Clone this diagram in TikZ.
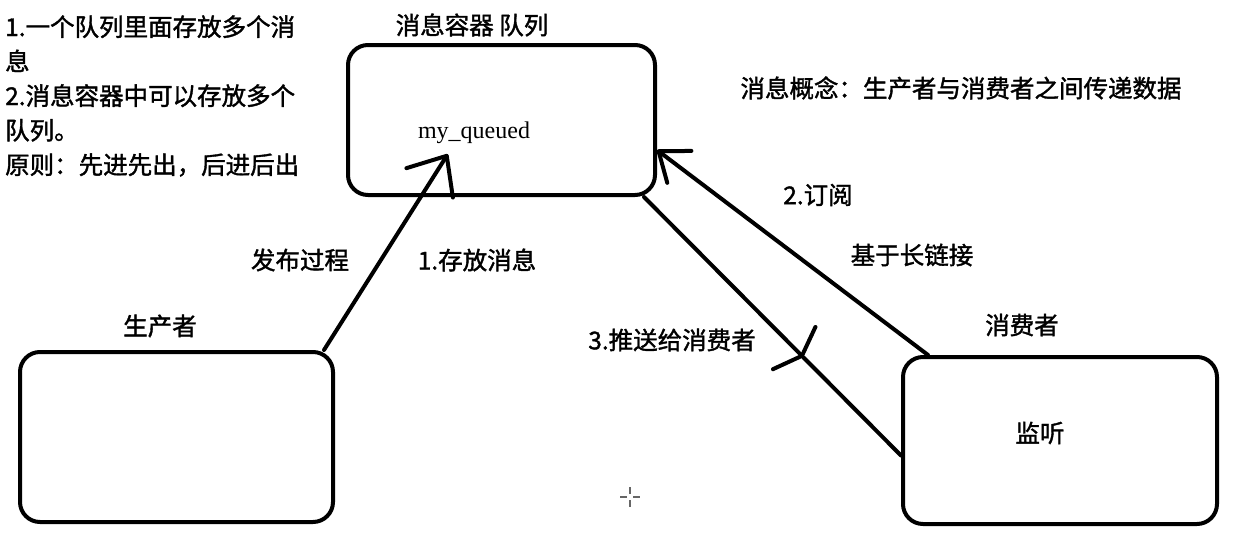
\documentclass[tikz,border=0pt]{standalone}
\usepackage{fontspec}
\setmainfont{Liberation Serif}
\newfontfamily\cjk[FakeBold=1.5]{Noto Sans CJK SC}
\usepackage{tikz}
\usetikzlibrary{arrows.meta,calc}
\newcommand{\cjktext}{\cjk\fontsize{24.5}{34.5}\selectfont}
\newcommand{\drawthick}{\draw[line width=4pt, line cap=round]}
\tikzset{
  box/.style={draw, line width=4pt, rounded corners=20pt, inner sep=0pt},
  lbl/.style={font=\cjktext, inner sep=0pt},
  pubtip/.tip={Straight Barb[length=32pt,width=55pt,round]},
  subtip/.tip={Straight Barb[length=26pt,width=40pt,round]},
  pushtip/.tip={Straight Barb[length=11pt,width=60pt,round]}
}
\begin{document}
\begin{tikzpicture}[x=1pt, y=-1pt]
\useasboundingbox (0,0) rectangle (1235,544);
\node[box, minimum width=307pt, minimum height=150pt] (queue) at (501.5,120) {};
\node[box, minimum width=313pt, minimum height=170pt] (producer) at (176.5,437) {};
\node[box, minimum width=314pt, minimum height=167pt] (consumer) at (1060,440.5) {};
\node[inner sep=0pt, font=\fontsize{24}{28}\selectfont] (mq) at (474,133) {my\_queued};
\node[lbl] (listen) at (1040,433) {监听};
\node[lbl] (queuetitle) at (472,25) {消息容器 队列};
\node[lbl] (prodtitle) at (160,326) {生产者};
\node[lbl] (constitle) at (1022,325) {消费者};
\node[lbl] (concept) at (961,88) {消息概念：生产者与消费者之间传递数据};
\node[lbl, anchor=base west, align=left] (notes) at (5,174) {1.一个队列里面存放多个消\\息\\2.消息容器中可以存放多个\\队列。\\原则：先进先出，后进后出};
\node[lbl] (publish) at (300,260) {发布过程};
\node[lbl] (store) at (477,260) {1.存放消息};
\node[lbl] (subscribe) at (818,195) {2.订阅};
\node[lbl] (longlink) at (912,255) {基于长链接};
\node[lbl] (push) at (672,340) {3.推送给消费者};
\coordinate (pubstart) at ([xshift=-11pt]producer.north east);
\coordinate (pubend) at ([xshift=30pt, yshift=-10pt]mq.south west);
\coordinate (substart) at ([xshift=27pt]consumer.north west);
\coordinate (subend) at ([yshift=-30pt]queue.east);
\coordinate (pushstart) at ([xshift=-13pt]queue.south east);
\coordinate (pushend) at ([yshift=-15pt]consumer.west);
\coordinate (pushmid) at ($(pushstart)!0.62!(pushend)$);
\drawthick[-pubtip] (pubstart) -- (pubend);
\drawthick[-subtip] (substart) -- (subend);
\drawthick[-pushtip] (pushstart) -- (pushmid);
\drawthick (pushmid) -- (pushend);
\draw[black!60, line width=1.2pt] (620,497) -- (627,497) (633,497) -- (640,497) (630,487) -- (630,494) (630,500) -- (630,507);
\end{tikzpicture}
\end{document}
